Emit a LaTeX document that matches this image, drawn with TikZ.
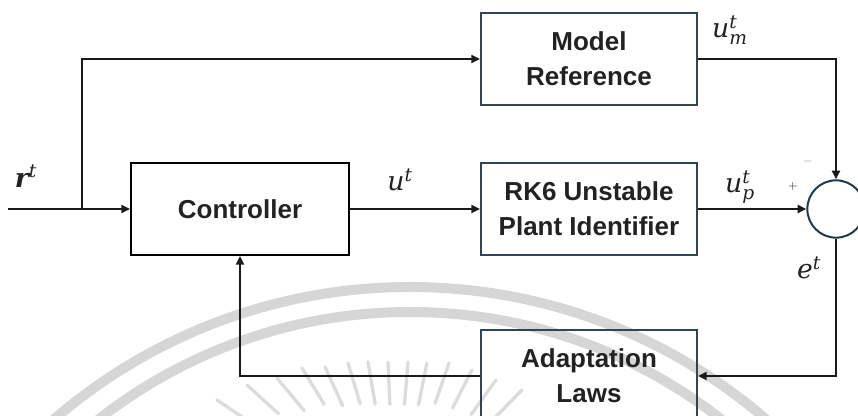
\documentclass[tikz,border=0pt]{standalone}
\usepackage{fix-cm}
\usepackage{amsmath}
\usepackage{fontspec}
\setsansfont{Liberation Sans}
\newfontfamily\varfont{DejaVu Serif}
\newcommand\vi[1]{\text{\varfont\itshape #1}}
\newcommand\vb[1]{\text{\varfont\bfseries\itshape #1}}
\usetikzlibrary{arrows.meta,calc}
\definecolor{boxedge}{HTML}{2E4559}
\definecolor{sumedge}{HTML}{1F3A4C}
\definecolor{wirecol}{HTML}{1A1A1A}
\definecolor{labelcol}{HTML}{222222}
\definecolor{sealgray}{HTML}{D6D6D6}
\begin{document}
\begin{tikzpicture}[x=0.75pt,y=-0.75pt,
  blockbox/.style={draw=boxedge, line width=1.5pt, minimum width=162pt,
    minimum height=69pt, align=center, inner sep=0pt, text=labelcol,
    font=\sffamily\bfseries\fontsize{19.5}{26.5}\selectfont},
  sumnode/.style={circle, draw=sumedge, line width=1.5pt, minimum size=43pt, inner sep=0pt},
  wire/.style={draw=wirecol, line width=1.5pt},
  flow/.style={wire, -{Triangle[length=6.5pt,width=6pt]}},
  mathlbl/.style={inner sep=0pt, text=labelcol, font=\fontsize{20}{24}\selectfont},
  signlbl/.style={inner sep=0pt, font=\fontsize{9}{10}\selectfont},
  sealband/.style={draw=sealgray, line width=7.5pt},
  sealray/.style={draw=sealgray!85, line width=2.5pt, line cap=round}]
\useasboundingbox (0,0) rectangle (858,416);

% faint seal in the background
\begin{scope}
  \clip (0,0) rectangle (858,416);
  \draw[sealband] (410,832) circle [radius=545];
  \draw[sealband] (410,817) circle [radius=505];
  \coordinate (hub) at (395,520);
  \foreach \px/\py in {217/400, 247/385, 277/378, 302/368, 325/367, 348/363,
                       368/362, 388/362, 408/362, 427/363, 449/363, 472/370,
                       496/380, 522/390} {
    \draw[sealray] (\px,\py) -- ($(\px,\py)!32pt!(hub)$);
  }
\end{scope}

% blocks
\node[blockbox] (model) at (589,59) {Model\\Reference};
\node[blockbox] (plant) at (589,209) {RK6 Unstable\\Plant Identifier};
\node[blockbox, draw=black, minimum width=163.5pt] (ctrl) at (240,209) {Controller};
\node[blockbox] (adapt) at (589,376) {Adaptation\\Laws};
\node[sumnode] (sum) at (836,209) {};

% signals
\coordinate (in) at (8,209);
\coordinate (split) at (82,209);
\draw[wire] (in) -- (split);
\draw[flow] (split) -- (ctrl.west);
\draw[flow] (split) |- (model.west);
\draw[flow] (ctrl.east) -- (plant.west);
\draw[flow] (plant.east) -- (sum.west);
\draw[flow] (model.east) -| (sum.north);
\draw[flow] (sum.south) |- (adapt.east);
\draw[flow] (adapt.west) -| (ctrl.south);

% labels
\node[mathlbl] (rlab) at (26,176) {$\vb{r}^{\vi{t}}$};
\node[mathlbl] (ulab) at (400,180) {$\vi{u}^{\vi{t}}$};
\node[mathlbl] (uplab) at (740,187) {$\vi{u}^{\vi{t}}_{\vi{p}}$};
\node[mathlbl] (umlab) at (730,30) {$\vi{u}^{\vi{t}}_{\vi{m}}$};
\node[mathlbl] (elab) at (809,268) {$\vi{e}^{\vi{t}}$};
\node[signlbl, text=black!45] (minus) at (808,162) {$-$};
\node[signlbl, text=labelcol] (plus) at (793,187) {$+$};
\end{tikzpicture}
\end{document}
